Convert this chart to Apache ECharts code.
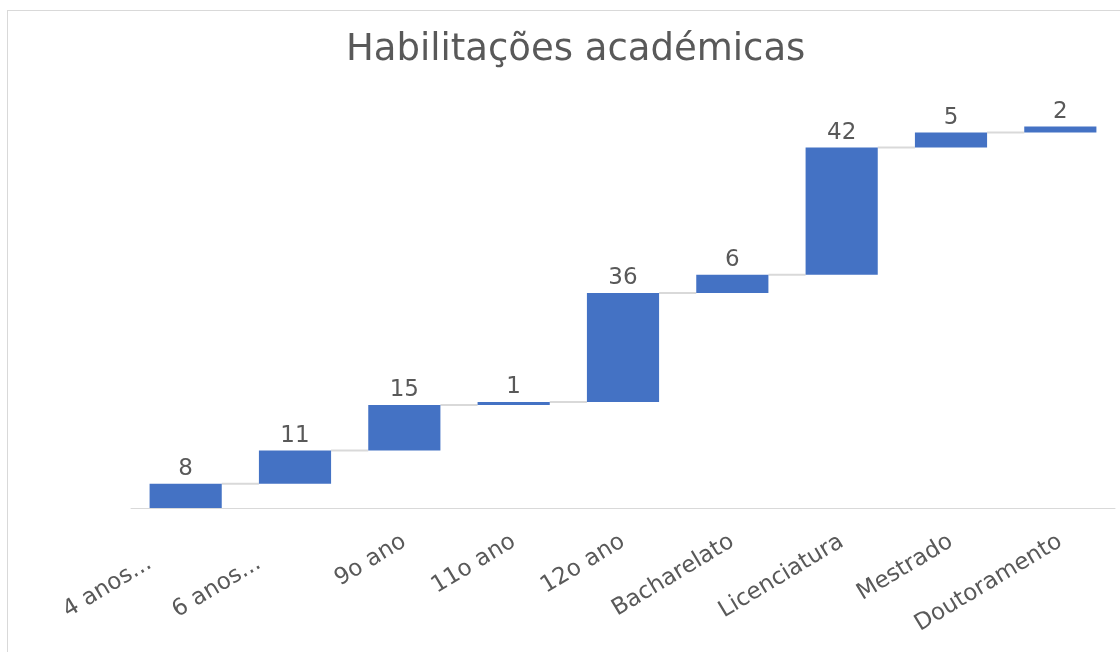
<!DOCTYPE html>
<html>
<head>
<meta charset="utf-8">
<script src="https://cdn.jsdelivr.net/npm/echarts@6/dist/echarts.min.js"></script>
<style>
  html, body { margin: 0; padding: 0; background: #fff; }
  #frame { position: absolute; left: 7px; top: 10px; width: 1200px; height: 700px;
           border-top: 1px solid #d9d9d9; border-left: 1px solid #d9d9d9; }
  #main { position: absolute; left: 0; top: 0; width: 1120px; height: 652px; }
</style>
</head>
<body>
<div id="frame"></div>
<div id="main"></div>
<script>
const categories = ["4 anos...", "6 anos...", "9o ano", "11o ano", "12o ano", "Bacharelato", "Licenciatura", "Mestrado", "Doutoramento"];
const values = [8, 11, 15, 1, 36, 6, 42, 5, 2];

// running totals for the waterfall
const bases = [];
const tops = [];
let total = 0;
values.forEach((v) => {
  bases.push(total);
  total += v;
  tops.push(total);
});

const barFraction = 0.66;
const textColor = "#595959";
const font = "DejaVu Sans";

// the two truncated labels sit further left, as in Excel
const categoryItems = categories.map((c, i) =>
  i < 2 ? { value: c, textStyle: { padding: [0, 42, 0, 0] } } : c
);

const chart = echarts.init(document.getElementById("main"));

chart.setOption({
  animation: false,
  title: {
    text: "Habilitações académicas",
    left: 341,
    top: 27,
    textStyle: { fontFamily: font, fontSize: 37, fontWeight: "normal", color: textColor },
  },
  grid: { left: 131, right: 5, top: 84, bottom: 144 },
  xAxis: {
    type: "category",
    data: categoryItems,
    axisLine: { lineStyle: { color: "#d9d9d9", width: 1 } },
    axisTick: { show: false },
    axisLabel: {
      rotate: 31,
      margin: 32,
      interval: 0,
      fontFamily: font,
      fontSize: 23,
      color: textColor,
    },
  },
  yAxis: {
    type: "value",
    min: 0,
    max: 140,
    show: false,
    splitLine: { show: false },
  },
  series: [
    {
      type: "bar",
      stack: "wf",
      data: bases,
      itemStyle: { color: "transparent" },
      barWidth: barFraction * 100 + "%",
      silent: true,
    },
    {
      type: "bar",
      stack: "wf",
      data: values,
      barWidth: barFraction * 100 + "%",
      itemStyle: { color: "#4472c4" },
      label: {
        show: true,
        position: "top",
        distance: 3,
        fontFamily: font,
        fontSize: 23,
        color: textColor,
      },
      z: 3,
    },
    {
      // connector lines between bars
      type: "custom",
      data: tops.slice(0, -1).map((t, i) => [i, t]),
      renderItem: function (params, api) {
        const i = api.value(0);
        const v = api.value(1);
        const a = api.coord([i, v]);
        const b = api.coord([i + 1, v]);
        const half = (api.size([1, 0])[0] * barFraction) / 2;
        return {
          type: "line",
          shape: { x1: a[0] + half, y1: a[1], x2: b[0] - half, y2: b[1] },
          style: { stroke: "#d9d9d9", lineWidth: 2 },
        };
      },
      z: 1,
      silent: true,
    },
  ],
});
</script>
</body>
</html>
